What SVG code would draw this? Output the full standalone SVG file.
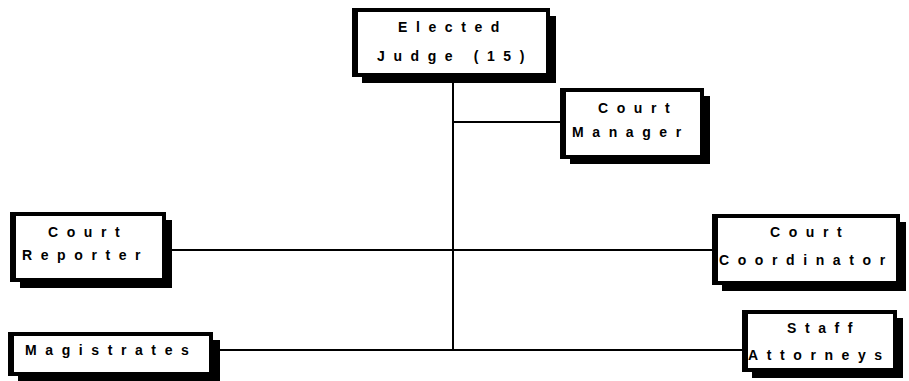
<svg xmlns="http://www.w3.org/2000/svg" width="909" height="381" viewBox="0 0 909 381">
  <style>
    .shadow { fill: #000; }
    .frame { fill: #000; }
    .face { fill: #fff; }
    .lbl { font-family: "Liberation Sans", Arial, sans-serif; font-size: 14px; font-weight: bold; letter-spacing: 8.6px; fill: #000; }
    .wire { stroke: #000; stroke-width: 2; fill: none; }
  </style>
  <rect width="909" height="381" fill="#fff"/>

  <!-- connectors -->
  <g id="connectors">
    <line class="wire" x1="453" y1="80" x2="453" y2="350"/>
    <line class="wire" x1="453" y1="122" x2="562" y2="122"/>
    <line class="wire" x1="170" y1="250" x2="714" y2="250"/>
    <line class="wire" x1="218" y1="350" x2="744" y2="350"/>
  </g>

  <!-- Elected Judge -->
  <g id="judge">
    <rect class="shadow" x="362" y="16" width="194" height="67"/>
    <rect class="frame" x="352" y="8" width="198" height="69"/>
    <rect class="face" x="358" y="12" width="188" height="61"/>
    <text class="lbl" x="398" y="32">Elected</text>
    <text class="lbl" x="377" y="61">Judge (15)</text>
  </g>

  <!-- Court Manager -->
  <g id="manager">
    <rect class="shadow" x="570" y="96" width="140" height="68"/>
    <rect class="frame" x="560" y="88" width="144" height="71"/>
    <rect class="face" x="566" y="92" width="134" height="63"/>
    <text class="lbl" x="598" y="113">Court</text>
    <text class="lbl" x="572" y="137">Manager</text>
  </g>

  <!-- Court Reporter -->
  <g id="reporter">
    <rect class="shadow" x="20" y="220" width="152" height="68"/>
    <rect class="frame" x="10" y="212" width="156" height="70"/>
    <rect class="face" x="16" y="216" width="146" height="62"/>
    <text class="lbl" x="48" y="237">Court</text>
    <text class="lbl" x="22" y="260">Reporter</text>
  </g>

  <!-- Court Coordinator -->
  <g id="coordinator">
    <rect class="shadow" x="722" y="222" width="184" height="69"/>
    <rect class="frame" x="712" y="214" width="188" height="71"/>
    <rect class="face" x="718" y="218" width="178" height="63"/>
    <text class="lbl" x="770" y="237">Court</text>
    <text class="lbl" x="719" y="265">Coordinator</text>
  </g>

  <!-- Magistrates -->
  <g id="magistrates">
    <rect class="shadow" x="18" y="340" width="202" height="41"/>
    <rect class="frame" x="8" y="332" width="205" height="44"/>
    <rect class="face" x="14" y="336" width="195" height="36"/>
    <text class="lbl" x="25" y="355">Magistrates</text>
  </g>

  <!-- Staff Attorneys -->
  <g id="staff">
    <rect class="shadow" x="752" y="318" width="151" height="60"/>
    <rect class="frame" x="742" y="310" width="155" height="62"/>
    <rect class="face" x="748" y="314" width="145" height="54"/>
    <text class="lbl" x="787" y="333">Staff</text>
    <text class="lbl" x="748" y="360">Attorneys</text>
  </g>
</svg>
